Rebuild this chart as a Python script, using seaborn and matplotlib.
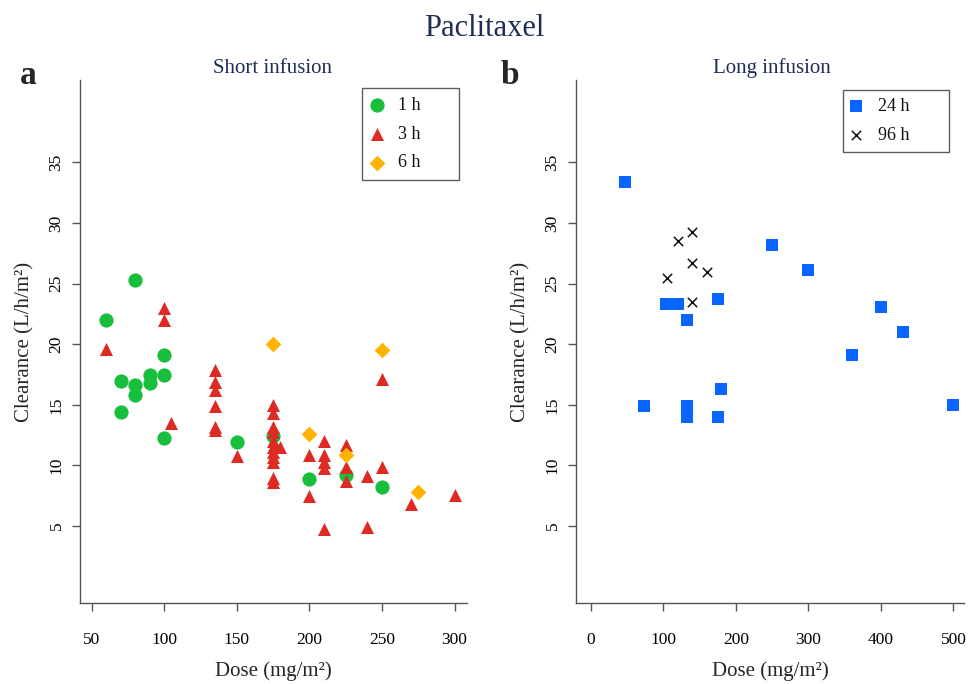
import matplotlib
matplotlib.use("Agg")
import matplotlib.pyplot as plt
import seaborn as sns
import pandas as pd

# ---- data ----
dose_1h = [60, 80, 100, 70, 80, 90, 90, 100, 80, 70, 100, 150, 175, 200, 225, 250]
cl_1h = [22.0, 25.3, 19.1, 17.0, 16.6, 17.5, 16.8, 17.5, 15.8, 14.4, 12.3, 11.9, 12.4, 8.9, 9.2, 8.2]

dose_3h = [100, 100, 60, 105,
           135, 135, 135, 135, 135, 135,
           150,
           175, 175, 175, 175, 175, 175, 175, 175, 175, 175, 175,
           180,
           200, 200,
           210, 210, 210, 210, 210,
           225, 225, 225,
           240, 240,
           250, 250,
           270, 300]
cl_3h = [23.0, 22.0, 19.6, 13.5,
         17.9, 16.9, 16.2, 14.9, 13.2, 12.9,
         10.8,
         15.0, 14.3, 13.2, 12.8, 12.0, 11.5, 11.1, 10.7, 10.3, 9.0, 8.6,
         11.5,
         10.9, 7.5,
         12.0, 10.9, 10.3, 9.8, 4.8,
         11.7, 9.9, 8.7,
         9.1, 4.9,
         17.1, 9.9,
         6.8, 7.6]

dose_6h = [175, 250, 200, 225, 275]
cl_6h = [20.0, 19.5, 12.6, 10.9, 7.8]

dose_24h = [47, 104, 120, 133, 175, 73, 133, 133, 133, 180, 175, 250, 300, 400, 430, 360, 500]
cl_24h = [33.4, 23.3, 23.3, 22.0, 23.7, 14.9, 14.9, 14.4, 14.0, 16.3, 14.0, 28.2, 26.1, 23.1, 21.0, 19.1, 15.0]

dose_96h = [140, 120, 140, 160, 105, 140]
cl_96h = [29.3, 28.5, 26.7, 26.0, 25.5, 23.5]

yticks = [5, 10, 15, 20, 25, 30, 35]
xticks_short = [50, 100, 150, 200, 250, 300]
xticks_long = [0, 100, 200, 300, 400, 500]

short_df = pd.concat([
    pd.DataFrame({"Dose": dose_1h, "CL": cl_1h, "Infusion": "1 h"}),
    pd.DataFrame({"Dose": dose_3h, "CL": cl_3h, "Infusion": "3 h"}),
    pd.DataFrame({"Dose": dose_6h, "CL": cl_6h, "Infusion": "6 h"}),
])
long_df = pd.concat([
    pd.DataFrame({"Dose": dose_24h, "CL": cl_24h, "Infusion": "24 h"}),
    pd.DataFrame({"Dose": dose_96h, "CL": cl_96h, "Infusion": "96 h"}),
])

sns.set_style("white")
plt.rcParams["font.family"] = ["Liberation Serif", "DejaVu Serif"]

fig = plt.figure(figsize=(9.68, 6.84), dpi=100)
axL = fig.add_axes([0.0826, 0.118, 0.3998, 0.765])
axR = fig.add_axes([0.595, 0.118, 0.4008, 0.765])

styles = {
    "1 h": dict(marker="o", color="#17bf3c", s=105, linewidth=0),
    "3 h": dict(marker="^", color="#dd2a22", s=88, linewidth=0),
    "6 h": dict(marker="D", color="#ffb300", s=64, linewidth=0),
    "24 h": dict(marker="s", color="#0a64ff", s=78, linewidth=0),
    "96 h": dict(marker="x", color="#111111", s=45, linewidth=1.1),
}

for name in ["1 h", "3 h", "6 h"]:
    sub = short_df[short_df["Infusion"] == name]
    sns.scatterplot(data=sub, x="Dose", y="CL", ax=axL, label=name, **styles[name])
for name in ["24 h", "96 h"]:
    sub = long_df[long_df["Infusion"] == name]
    sns.scatterplot(data=sub, x="Dose", y="CL", ax=axR, label=name, **styles[name])

axL.set_xlim(42, 308.5)
axR.set_xlim(-20.7, 514.5)
for ax, xt in [(axL, xticks_short), (axR, xticks_long)]:
    ax.set_ylim(-1.37, 41.8)
    ax.set_xticks(xt)
    ax.set_yticks(yticks)
    for sp in ["top", "right"]:
        ax.spines[sp].set_visible(False)
    for sp in ["left", "bottom"]:
        ax.spines[sp].set_color("#555555")
        ax.spines[sp].set_linewidth(1.0)
    ax.tick_params(axis="both", which="major", bottom=True, left=True,
                   direction="out", length=6, width=1.0,
                   color="#555555", labelsize=12.5, labelcolor="black")
    ax.tick_params(axis="x", pad=15)
    ax.tick_params(axis="y", pad=5, labelrotation=90)
    for lab in ax.get_yticklabels():
        lab.set_va("center")
    ax.set_xlabel("Dose (mg/m²)", fontsize=15, labelpad=9)
    ax.set_ylabel("Clearance (L/h/m²)", fontsize=15, labelpad=10)
    ax.set_facecolor("white")

legL = axL.legend(loc="upper left", bbox_to_anchor=(0.729, 0.0, 0.251, 0.985),
                  mode="expand", frameon=True, fancybox=False, edgecolor="#333333",
                  fontsize=13, handletextpad=0.9, borderpad=0.5, labelspacing=0.65,
                  handlelength=0.6, borderaxespad=0.0)
legR = axR.legend(loc="upper left", bbox_to_anchor=(0.688, 0.0, 0.273, 0.981),
                  mode="expand", frameon=True, fancybox=False, edgecolor="#333333",
                  fontsize=13, handletextpad=0.9, borderpad=0.45, labelspacing=0.65,
                  handlelength=0.6, borderaxespad=0.0)
for leg in (legL, legR):
    leg.get_frame().set_linewidth(1.0)
    for t in leg.get_texts():
        t.set_color("#111111")

navy = "#1f2d57"
fig.text(0.5, 0.958, "Paclitaxel", ha="center", va="center", fontsize=22, color=navy)
fig.text(0.281, 0.900, "Short infusion", ha="center", va="center", fontsize=15, color=navy)
fig.text(0.797, 0.900, "Long infusion", ha="center", va="center", fontsize=15, color=navy)
fig.text(0.029, 0.890, "a", ha="center", va="center", fontsize=24, fontweight="bold")
fig.text(0.527, 0.890, "b", ha="center", va="center", fontsize=24, fontweight="bold")

fig.savefig("out.png", dpi=100, facecolor="white")
